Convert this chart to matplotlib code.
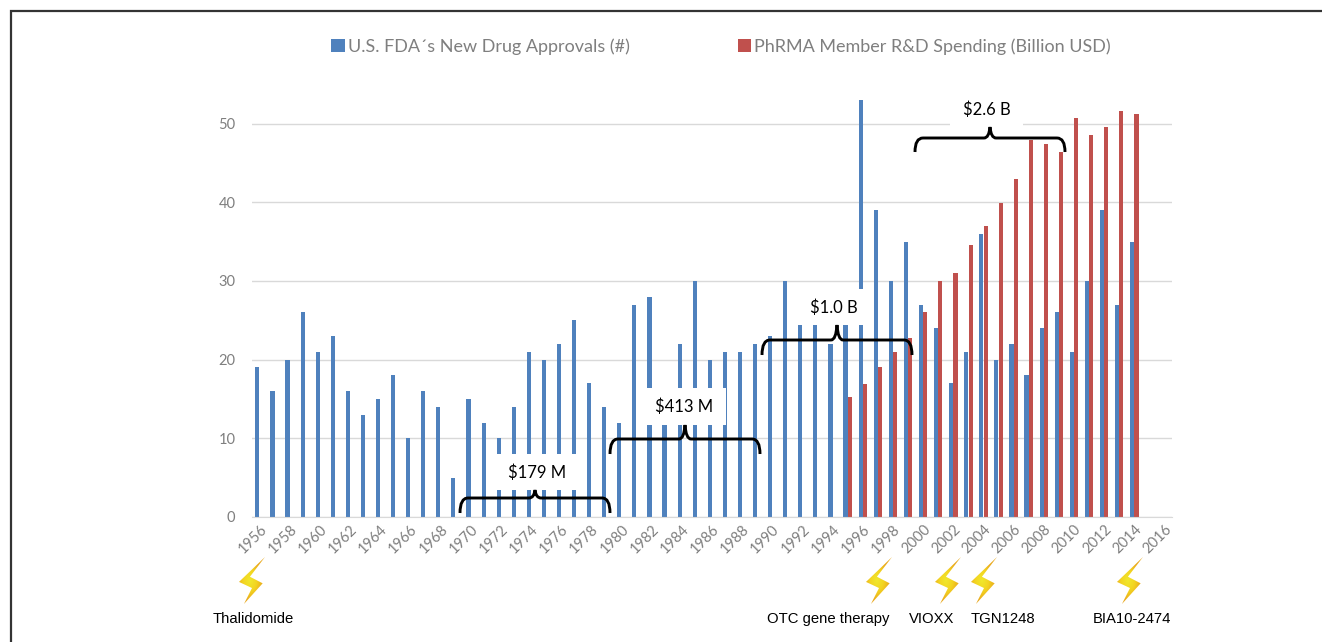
import numpy as np
import matplotlib
matplotlib.use('Agg')
import matplotlib.pyplot as plt
from matplotlib.patches import PathPatch, Polygon, Rectangle
from matplotlib.path import Path
from matplotlib.colors import LinearSegmentedColormap

W, H = 1322, 642

# Data
years = list(range(1956, 2017))
approvals = [19, 16, 20, 26, 21, 23, 16, 13, 15, 18, 10, 16, 14, 5, 15, 12, 10, 14, 21, 20,
             22, 25, 17, 14, 12, 27, 28, 14, 22, 30, 20, 21, 21, 22, 23, 30, 26, 25, 22, 28,
             53, 39, 30, 35, 27, 24, 17, 21, 36, 20, 22, 18, 24, 26, 21, 30, 39, 27, 35]
spending_years = list(range(1995, 2015))
spending = [15.2, 16.9, 19, 21, 22.7, 26, 30, 31, 34.5, 37, 39.9, 43, 47.9, 47.4, 46.4,
            50.7, 48.6, 49.6, 51.6, 51.2]
tick_years = years[::2]

# cost brackets: label, x left, x right, y top, y bottom, y tip, label x, label y (pixels)
brackets = [('$179 M', 460, 610, 498, 513, 490, 537.5, 473),
            ('$413 M', 610, 760, 439, 454, 425, 684.5, 407),
            ('$1.0 B', 762, 912, 340, 355, 325, 834, 308),
            ('$2.6 B', 915, 1065, 138, 152, 127, 987, 110)]
# white label boxes hiding parts of the bars: x, y, w, h (pixels)
boxes = [(488, 454, 94, 36), (638, 388, 88, 37), (792, 289, 76, 36), (950, 94, 73, 33)]
# adverse events: name, text centre x, bolt left x
events = [('Thalidomide', 253, 239), ('OTC gene therapy', 828, 866), ('VIOXX', 931.5, 935),
          ('TGN1248', 1003, 971), ('BIA10-2474', 1132, 1117)]

plt.rcParams['font.family'] = ['Lato', 'DejaVu Sans']
fig = plt.figure(figsize=(W / 100, H / 100), dpi=100, facecolor='white')

# plot area, 0 at 517 px and 50 at 123.5 px
px_per_unit = (517 - 123.5) / 50
top = 55
ax = fig.add_axes([252 / W, 1 - 517 / H, 920 / W, top * px_per_unit / H])
pos = np.array(years[:len(approvals)]) - 1956
b1 = ax.bar(pos - 0.145, approvals, width=0.275, color='#4F81BD', zorder=2)
b2 = ax.bar(np.array(spending_years) - 1956 + 0.145, spending, width=0.275, color='#C0504D', zorder=2)
ax.set_xlim(-0.5, 60.5)
ax.set_ylim(0, top)
ax.set_yticks([0, 10, 20, 30, 40, 50])
ax.grid(axis='y', color='#D9D9D9', lw=1, zorder=0)
ax.set_axisbelow(True)
ax.set_xticks([y - 1956 for y in tick_years])
ax.set_xticklabels(tick_years, rotation=45, ha='right', rotation_mode='anchor')
ax.tick_params(length=0, labelsize=10.5, labelcolor='#7F7F7F')
ax.tick_params(axis='x', pad=4)
ax.tick_params(axis='y', pad=12)
for s in ['top', 'left', 'right']:
    ax.spines[s].set_visible(False)
ax.spines['bottom'].set_color('#D9D9D9')

fig.legend([b1, b2], ['U.S. FDA´s New Drug Approvals (#)', 'PhRMA Member R&D Spending (Billion USD)'],
           ncol=2, loc='center', bbox_to_anchor=(721 / W, 1 - 46.5 / H), frameon=False, fontsize=13,
           labelcolor='#7F7F7F', handlelength=0.75, handleheight=0.75, handletextpad=0.15,
           columnspacing=6.0)

# overlay in picture pixels for the hand drawn annotations
ov = fig.add_axes([0, 0, 1, 1], facecolor='none')
ov.set_xlim(0, W)
ov.set_ylim(H, 0)
ov.axis('off')

# frame cropped at the right and bottom
ov.plot([11, 11, W], [H, 11, 11], color='#333333', lw=1.6, solid_joinstyle='miter')

for x, y, w, h in boxes:
    ov.add_patch(Rectangle((x, y), w, h, fc='white', ec='none', zorder=3))

def brace(x0, x1, ytop, ybot, ytip):
    m = (x0 + x1) / 2
    verts = [(x0, ybot), (x0, ytop), (x0 + 8, ytop), (m - 6, ytop), (m - 1, ytop), (m, ytip),
             (m + 1, ytop), (m + 6, ytop), (x1 - 8, ytop), (x1, ytop), (x1, ybot)]
    codes = [Path.MOVETO, Path.CURVE3, Path.CURVE3, Path.LINETO, Path.CURVE3, Path.CURVE3,
             Path.CURVE3, Path.CURVE3, Path.LINETO, Path.CURVE3, Path.CURVE3]
    ov.add_patch(PathPatch(Path(verts, codes), fc='none', ec='black', lw=2.1, zorder=4, capstyle='butt'))

for label, x0, x1, ytop, ybot, ytip, xtext, ytext in brackets:
    brace(x0, x1, ytop, ybot, ytip)
    ov.text(xtext, ytext, label, ha='center', va='center', fontsize=12, color='black', zorder=5)

# lightning bolt outline, 0..1 of its box
bolt = np.array([[1.0, 0.0], [0.0, 0.53], [0.50, 0.66], [0.19, 1.0], [0.91, 0.56], [0.42, 0.42]])
bolt_cmap = LinearSegmentedColormap.from_list('bolt', ['#F0E82C', '#F3D421', '#E9A81C'])
yy, xx = np.mgrid[0:1:60j, 0:1:40j]
shade = np.clip(np.hypot(xx - 0.42, (yy - 0.5) * 1.2) * 1.9, 0, 1)
for name, xc, xb in events:
    ov.text(xc, 619, name, ha='center', va='center', fontsize=10.7, color='black',
            family=['Liberation Sans'], zorder=5)
    poly = Polygon(bolt * [26, 47] + [xb, 557], fc='none', ec='none', transform=ov.transData)
    ov.add_patch(poly)
    im = ov.imshow(shade, extent=(xb, xb + 26, 604, 557), cmap=bolt_cmap, vmin=0, vmax=1,
                   aspect='auto', zorder=4, interpolation='bilinear')
    im.set_clip_path(poly)
ov.set_xlim(0, W)
ov.set_ylim(H, 0)

fig.savefig('out.png', dpi=100, facecolor='white')
